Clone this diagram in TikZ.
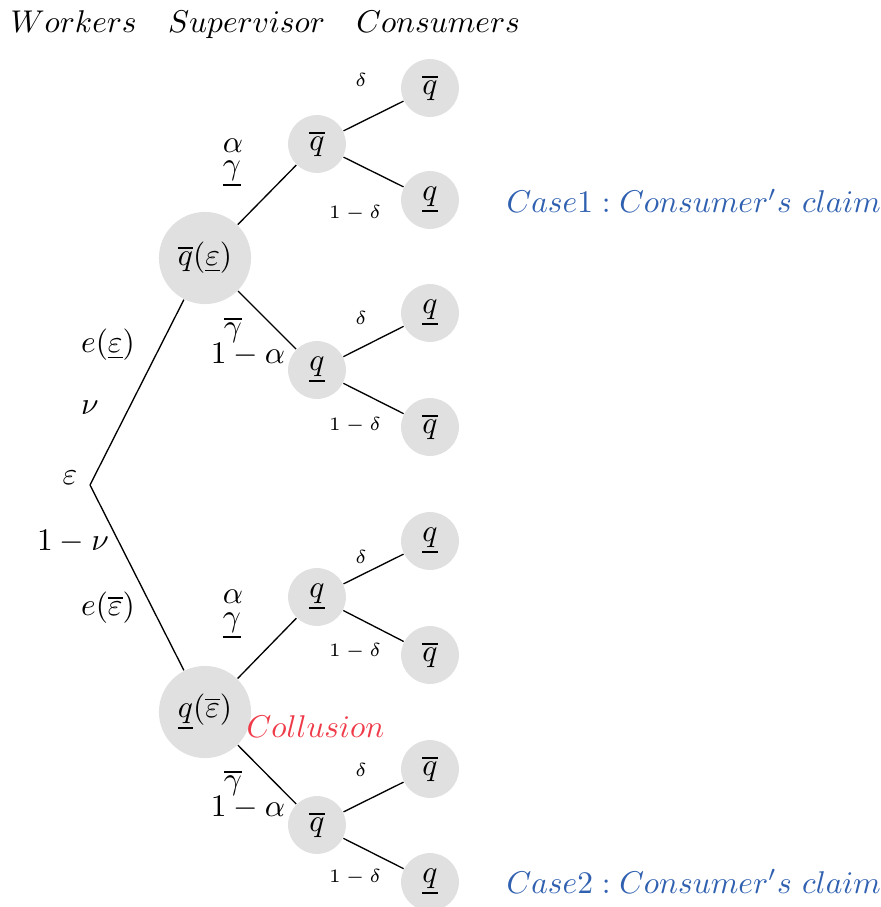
\documentclass[tikz,border=0pt]{standalone}
\usepackage{amsmath}
\definecolor{caseblue}{RGB}{48,96,176}
\definecolor{colred}{RGB}{239,59,73}
\definecolor{nodegray}{RGB}{224,224,224}
\begin{document}
\begin{tikzpicture}[x=0.318pt,y=-0.318pt,
  state/.style={circle,fill=nodegray,minimum size=18.4pt,inner sep=0pt},
  bigstate/.style={circle,fill=nodegray,minimum size=29.3pt,inner sep=0pt},
  lbl/.style={inner sep=0pt},
  slbl/.style={inner sep=0pt,font=\fontsize{6.5}{8}\selectfont},
  conn/.style={draw,line width=0.42pt}]
\useasboundingbox (0,0) rectangle (880,907);
% header
\node[lbl,anchor=base west] (hdr) at (10,33) {$Workers\quad Supervisor\quad Consumers$};
% root
\coordinate (R) at (90,485);
\node[lbl] (eps) at (70,478) {$\varepsilon$};
% level 1
\node[bigstate] (A) at (205,258) {$\overline{q}(\underline{\varepsilon})$};
\node[bigstate] (B) at (205,712) {$\underline{q}(\overline{\varepsilon})$};
% level 2
\node[state] (A1) at (317,144) {$\overline{q}$};
\node[state] (A2) at (317,370) {$\underline{q}$};
\node[state] (B1) at (317,597) {$\underline{q}$};
\node[state] (B2) at (317,825) {$\overline{q}$};
% level 3
\node[state] (A11) at (430,88) {$\overline{q}$};
\node[state] (A12) at (430,200) {$\underline{q}$};
\node[state] (A21) at (430,313) {$\underline{q}$};
\node[state] (A22) at (430,427) {$\overline{q}$};
\node[state] (B11) at (430,541) {$\underline{q}$};
\node[state] (B12) at (430,655) {$\overline{q}$};
\node[state] (B21) at (430,769) {$\overline{q}$};
\node[state] (B22) at (430,882) {$\underline{q}$};
% connectors
\draw[conn] (R) -- (A);
\draw[conn] (R) -- (B);
\draw[conn] (A) -- (A1);
\draw[conn] (A) -- (A2);
\draw[conn] (B) -- (B1);
\draw[conn] (B) -- (B2);
\draw[conn] (A1) -- (A11);
\draw[conn] (A1) -- (A12);
\draw[conn] (A2) -- (A21);
\draw[conn] (A2) -- (A22);
\draw[conn] (B1) -- (B11);
\draw[conn] (B1) -- (B12);
\draw[conn] (B2) -- (B21);
\draw[conn] (B2) -- (B22);
% level 1 labels
\node[lbl] (lA1) at (108,345) {$e(\underline{\varepsilon})$};
\node[lbl] (lA2) at (90,408) {$\nu$};
\node[lbl] (lB1) at (73,542) {$1-\nu$};
\node[lbl] (lB2) at (108,608) {$e(\overline{\varepsilon})$};
% level 2 labels
\node[lbl] (a1) at (233,146) {$\alpha$};
\node[lbl] (g1) at (232,174) {$\underline{\gamma}$};
\node[lbl] (g2) at (233,330) {$\overline{\gamma}$};
\node[lbl] (a2) at (248,355) {$1-\alpha$};
\node[lbl] (a3) at (233,597) {$\alpha$};
\node[lbl] (g3) at (232,626) {$\underline{\gamma}$};
\node[lbl] (g4) at (233,783) {$\overline{\gamma}$};
\node[lbl] (a4) at (248,808) {$1-\alpha$};
% level 3 labels
\node[slbl] (d1) at (361,80) {$\delta$};
\node[slbl] (e1) at (355,213) {$1-\delta$};
\node[slbl] (d2) at (361,318) {$\delta$};
\node[slbl] (e2) at (355,425) {$1-\delta$};
\node[slbl] (d3) at (361,557) {$\delta$};
\node[slbl] (e3) at (355,651) {$1-\delta$};
\node[slbl] (d4) at (361,770) {$\delta$};
\node[slbl] (e4) at (355,877) {$1-\delta$};
% annotations
\node[lbl,anchor=base west,text=colred] (coll) at (246,737) {$Collusion$};
\node[lbl,anchor=base west,text=caseblue] (case1) at (506,213) {$Case1: Consumer's\ claim$};
\node[lbl,anchor=base west,text=caseblue] (case2) at (506,893) {$Case2: Consumer's\ claim$};
\end{tikzpicture}
\end{document}
